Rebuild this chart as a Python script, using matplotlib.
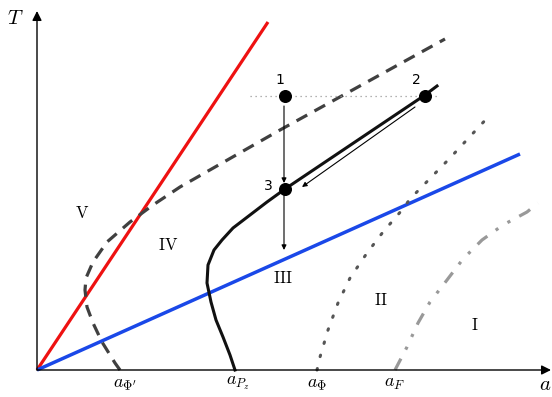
import matplotlib
matplotlib.use("Agg")
import matplotlib.pyplot as plt

plt.rcParams['mathtext.fontset'] = 'cm'

# ---- data (schematic coordinates, origin at axes corner) ----
red_x = [0, 231]
red_y = [0, 348]
blue_x = [0, 483]
blue_y = [0, 216]
dash_x = [83, 78, 65, 56, 50, 48, 49, 56, 70, 93, 116, 143, 243, 408]
dash_y = [0, 7, 28, 47, 63, 80, 92, 108, 128, 148, 165, 183, 240, 331]
solid_x = [198, 193, 186, 179, 174, 170, 171, 177, 185, 196, 213, 230, 248, 388, 400]
solid_y = [0, 15, 33, 50, 68, 87, 105, 120, 130, 142, 155, 168, 181, 275, 284]
dot_x = [280, 283, 291, 301, 313, 330, 346, 365, 373, 413, 453]
dot_y = [0, 13, 40, 67, 92, 117, 138, 160, 171, 212, 255]
dd_x = [358, 370, 381, 393, 410, 426, 445, 466, 490, 501]
dd_y = [0, 23, 47, 68, 90, 111, 130, 145, 158, 167]

pts_x = [248, 388, 248]
pts_y = [274, 274, 181]
pts_lab = ['1', '2', '3']
pts_lab_x = [243, 379, 231]
pts_lab_y = [290, 290, 184]

iso_x = [213, 403]
iso_y = [274, 274]

region_lab = ['V', 'IV', 'III', 'II', 'I']
region_x = [45, 131, 246, 344, 438]
region_y = [157, 125, 92, 70, 45]

tick_lab = [r"$a_{\Phi'}$", r"$a_{P_z}$", r"$a_{\Phi}$", r"$a_{F}$"]
tick_x = [88, 201, 280, 358]

fig = plt.figure(figsize=(5.52, 3.97), dpi=100)
ax = fig.add_axes([0, 0, 1, 1])
ax.set_xlim(-37, 515)
ax.set_ylim(-27, 370)
ax.axis('off')

# axes with arrows
ax.annotate('', xy=(514, 0), xytext=(0, 0),
            arrowprops=dict(arrowstyle='-|>', color='black', lw=1.0,
                            mutation_scale=14, shrinkA=0, shrinkB=0))
ax.annotate('', xy=(0, 359), xytext=(0, 0),
            arrowprops=dict(arrowstyle='-|>', color='black', lw=1.0,
                            mutation_scale=14, shrinkA=0, shrinkB=0))
ax.text(-22, 352, r'$T$', fontsize=15, ha='center', va='center')
ax.text(508, -14, r'$a$', fontsize=15, ha='center', va='center')

ax.plot(red_x, red_y, color='#ee1111', lw=2.3, solid_capstyle='butt')
ax.plot(blue_x, blue_y, color='#1a48e8', lw=2.5, solid_capstyle='butt')
ax.plot(dash_x, dash_y, color='#404040', lw=2.3, dashes=(3.8, 2.6))
ax.plot(solid_x, solid_y, color='#111111', lw=2.2)
ax.plot(dot_x, dot_y, color='#555555', lw=2.2, linestyle=(0, (0.5, 4)),
        dash_capstyle='round')
ax.plot(dd_x, dd_y, color='#999999', lw=2.3,
        linestyle=(0, (4, 3.2, 1, 3.4, 1, 3.2)))

ax.plot(iso_x, iso_y, color='#999999', lw=0.9, linestyle=(0, (1, 3)))
ax.scatter(pts_x, pts_y, s=70, color='black', zorder=5)
for lab, lx, ly in zip(pts_lab, pts_lab_x, pts_lab_y):
    ax.text(lx, ly, lab, fontsize=10, ha='center', va='center',
            family='DejaVu Sans')

# process arrows
arrow_kw = dict(arrowstyle='-|>', color='black', lw=0.8, mutation_scale=7,
                shrinkA=0, shrinkB=0)
ax.annotate('', xy=(247, 187), xytext=(247, 264), arrowprops=arrow_kw)
ax.annotate('', xy=(247, 120), xytext=(247, 176), arrowprops=arrow_kw)
ax.annotate('', xy=(265, 183), xytext=(378, 263), arrowprops=arrow_kw)

for lab, lx, ly in zip(region_lab, region_x, region_y):
    ax.text(lx, ly, r'$\mathrm{' + lab + '}$', fontsize=12,
            ha='center', va='center')

for lab, tx in zip(tick_lab, tick_x):
    ax.text(tx, -13, lab, fontsize=13, ha='center', va='center')

fig.savefig('out.png', dpi=100)
